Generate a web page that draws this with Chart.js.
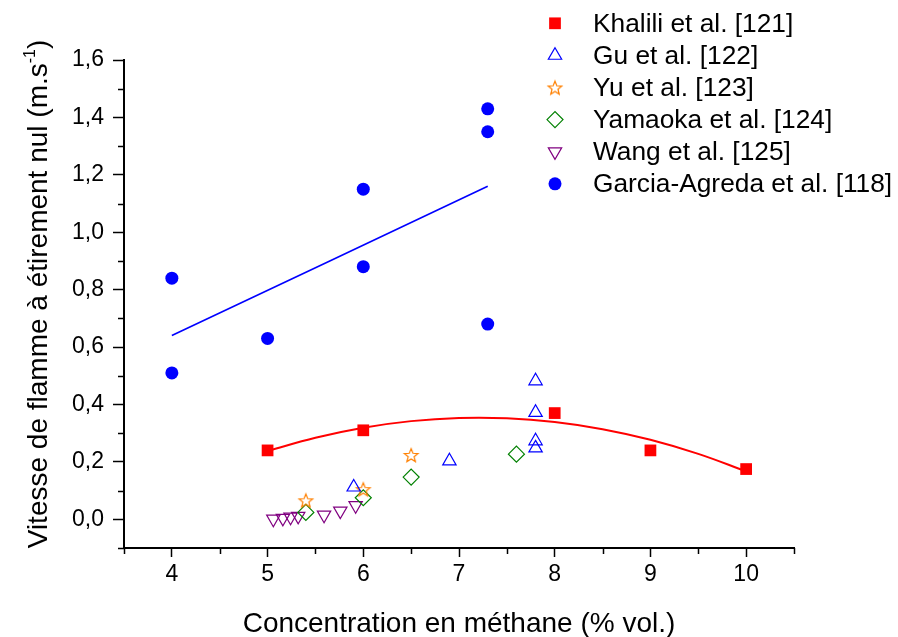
<!DOCTYPE html>
<html>
<head>
<meta charset="utf-8">
<script src="https://cdn.jsdelivr.net/npm/chart.js@4.4.0/dist/chart.umd.min.js"></script>
<style>
html, body { margin: 0; padding: 0; background: #fff; }
#wrap { width: 898px; height: 637px; }
</style>
</head>
<body>
<div id="wrap"><canvas id="chart" width="898" height="637"></canvas></div>
<script>
var FONT = "'Liberation Sans', Arial, sans-serif";

// data
var khaliliX = [5, 6, 8, 9, 10];
var khaliliY = [0.24, 0.31, 0.37, 0.24, 0.175];
var guX = [5.9, 6.9, 7.8, 7.8, 7.8, 7.8];
var guY = [0.112, 0.203, 0.482, 0.372, 0.273, 0.248];
var yuX = [5.4, 6.0, 6.5];
var yuY = [0.066, 0.105, 0.224];
var yamaokaX = [5.4, 6.0, 6.5, 7.6];
var yamaokaY = [0.024, 0.075, 0.147, 0.227];
var wangX = [5.06, 5.16, 5.24, 5.32, 5.59, 5.76, 5.92];
var wangY = [0.001, 0.004, 0.008, 0.011, 0.015, 0.029, 0.048];
var garciaX = [4, 4, 5, 6, 6, 7.3, 7.3, 7.3];
var garciaY = [0.84, 0.51, 0.63, 1.15, 0.88, 1.43, 1.35, 0.68];

// fitted curves
var khaliliFitX = [5, 5.5, 6, 6.5, 7, 7.5, 8, 8.5, 9, 9.5, 10];
var khaliliFitY = [0.238, 0.284, 0.319, 0.342, 0.353, 0.352, 0.339, 0.314, 0.277, 0.228, 0.167];
var garciaFitX = [4, 7.3];
var garciaFitY = [0.64, 1.16];

var xTicks = [4, 5, 6, 7, 8, 9, 10];
var xMinor = [3.5, 4.5, 5.5, 6.5, 7.5, 8.5, 9.5, 10.5];
var yTicks = [0, 0.2, 0.4, 0.6, 0.8, 1.0, 1.2, 1.4, 1.6];
var yMinor = [-0.1, 0.1, 0.3, 0.5, 0.7, 0.9, 1.1, 1.3, 1.5];

var xTitle = 'Concentration en méthane (% vol.)';
var yTitle = 'Vitesse de flamme à étirement nul (m.s';
var yTitleSup = '-1';
var yTitleEnd = ')';

function pts(xs, ys) {
	var out = [];
	for (var i = 0; i < xs.length; i++) out.push({x: xs[i], y: ys[i]});
	return out;
}

function starImage(color) {
	var c = document.createElement('canvas');
	c.width = 18; c.height = 18;
	var g = c.getContext('2d');
	g.strokeStyle = color;
	g.lineWidth = 1.2;
	g.beginPath();
	for (var i = 0; i < 10; i++) {
		var r = i % 2 ? 3.1 : 7.2;
		var a = -Math.PI / 2 + i * Math.PI / 5;
		var px = 9 + r * Math.cos(a), py = 9.8 + r * Math.sin(a);
		if (i) g.lineTo(px, py); else g.moveTo(px, py);
	}
	g.closePath();
	g.stroke();
	return c;
}

function markers(label, xs, ys, style, color, filled, radius, rot) {
	return {
		label: label,
		data: pts(xs, ys),
		showLine: false,
		pointStyle: style,
		pointRadius: radius,
		pointRotation: rot || 0,
		pointBorderColor: color,
		pointBackgroundColor: filled ? color : 'rgba(0,0,0,0)',
		pointBorderWidth: filled ? 0 : 1.2,
		borderColor: color,
		backgroundColor: filled ? color : 'rgba(0,0,0,0)'
	};
}

function fitLine(xs, ys, color, width) {
	return {
		label: '',
		fit: true,
		data: pts(xs, ys),
		showLine: true,
		borderColor: color,
		borderWidth: width,
		pointRadius: 0,
		tension: 0.4,
		fill: false
	};
}

var datasets = [
	fitLine(khaliliFitX, khaliliFitY, '#ff0000', 2),
	fitLine(garciaFitX, garciaFitY, '#0000ff', 1.6),
	markers('Khalili et al. [121]', khaliliX, khaliliY, 'rect', '#ff0000', true, 8.3),
	markers('Gu et al. [122]', guX, guY, 'triangle', '#0000ff', false, 7.7),
	markers('Yu et al. [123]', yuX, yuY, starImage('#ff8000'), '#ff8000', false, 7),
	markers('Yamaoka et al. [124]', yamaokaX, yamaokaY, 'rectRot', '#008000', false, 8),
	markers('Wang et al. [125]', wangX, wangY, 'triangle', '#800080', false, 7.7, 180),
	markers('Garcia-Agreda et al. [118]', garciaX, garciaY, 'circle', '#0000ff', true, 6.5)
];

var decorPlugin = {
	id: 'decor',
	afterDraw: function(chart) {
		var ctx = chart.ctx;
		var xs = chart.scales.x, ys = chart.scales.y;
		var area = chart.chartArea;
		ctx.save();
		// minor ticks
		ctx.strokeStyle = '#000';
		ctx.lineWidth = 1.5;
		ctx.beginPath();
		xMinor.forEach(function(v) {
			var px = Math.round(xs.getPixelForValue(v)) + 0.5;
			ctx.moveTo(px, area.bottom);
			ctx.lineTo(px, area.bottom + 6);
		});
		yMinor.forEach(function(v) {
			var py = Math.round(ys.getPixelForValue(v)) + 0.5;
			ctx.moveTo(area.left, py);
			ctx.lineTo(area.left - 6, py);
		});
		ctx.stroke();

		// axis titles
		ctx.fillStyle = '#000';
		ctx.font = '28px ' + FONT;
		ctx.textAlign = 'center';
		ctx.textBaseline = 'alphabetic';
		ctx.fillText(xTitle, (area.left + area.right) / 2, 632);

		ctx.save();
		ctx.translate(47, 0);
		ctx.rotate(-Math.PI / 2);
		ctx.font = '28px ' + FONT;
		var w1 = ctx.measureText(yTitle).width;
		ctx.font = '16px ' + FONT;
		var w2 = ctx.measureText(yTitleSup).width;
		ctx.font = '28px ' + FONT;
		var w3 = ctx.measureText(yTitleEnd).width;
		var start = -(294 + (w1 + w2 + w3) / 2);
		ctx.textAlign = 'left';
		ctx.fillText(yTitle, start, 0);
		ctx.font = '16px ' + FONT;
		ctx.fillText(yTitleSup, start + w1, -12);
		ctx.font = '28px ' + FONT;
		ctx.fillText(yTitleEnd, start + w1 + w2, 0);
		ctx.restore();

		// legend
		var row = 0;
		chart.data.datasets.forEach(function(ds) {
			if (ds.fit) return;
			var y = 23.3 + row * 32.1;
			ctx.fillStyle = ds.pointBackgroundColor;
			ctx.strokeStyle = ds.pointBorderColor;
			ctx.lineWidth = ds.pointBorderWidth;
			Chart.helpers.drawPoint(ctx, {
				pointStyle: ds.pointStyle,
				radius: ds.pointRadius,
				rotation: ds.pointRotation,
				borderWidth: ds.pointBorderWidth
			}, 555, y);
			ctx.fillStyle = '#000';
			ctx.font = '26.3px ' + FONT;
			ctx.textAlign = 'left';
			ctx.textBaseline = 'middle';
			ctx.fillText(ds.label, 593, y + 1);
			row++;
		});
		ctx.restore();
	}
};

new Chart(document.getElementById('chart'), {
	type: 'scatter',
	data: { datasets: datasets },
	plugins: [decorPlugin],
	options: {
		responsive: false,
		animation: false,
		events: [],
		layout: { padding: { top: 60, right: 104, bottom: 0, left: 0 } },
		plugins: { legend: { display: false }, tooltip: { enabled: false } },
		scales: {
			x: {
				type: 'linear',
				min: 3.5,
				max: 10.5,
				afterBuildTicks: function(s) { s.ticks = xTicks.map(function(v) { return {value: v}; }); },
				afterFit: function(s) { s.height = 89; },
				border: { display: true, color: '#000', width: 2 },
				grid: { display: true, drawOnChartArea: false, drawTicks: true, tickLength: 9, tickColor: '#000', tickWidth: 1.5 },
				ticks: { color: '#000', font: { family: FONT, size: 23 }, padding: 4, maxRotation: 0,
					callback: function(v) { return String(v); } }
			},
			y: {
				type: 'linear',
				min: -0.1,
				max: 1.6,
				afterBuildTicks: function(s) { s.ticks = yTicks.map(function(v) { return {value: v}; }); },
				afterFit: function(s) { s.width = 124; },
				border: { display: true, color: '#000', width: 2 },
				grid: { display: true, drawOnChartArea: false, drawTicks: true, tickLength: 11, tickColor: '#000', tickWidth: 1.5 },
				ticks: { color: '#000', font: { family: FONT, size: 23 }, padding: 9,
					callback: function(v) { return v.toFixed(1).replace('.', ','); } }
			}
		}
	}
});
</script>
</body>
</html>
